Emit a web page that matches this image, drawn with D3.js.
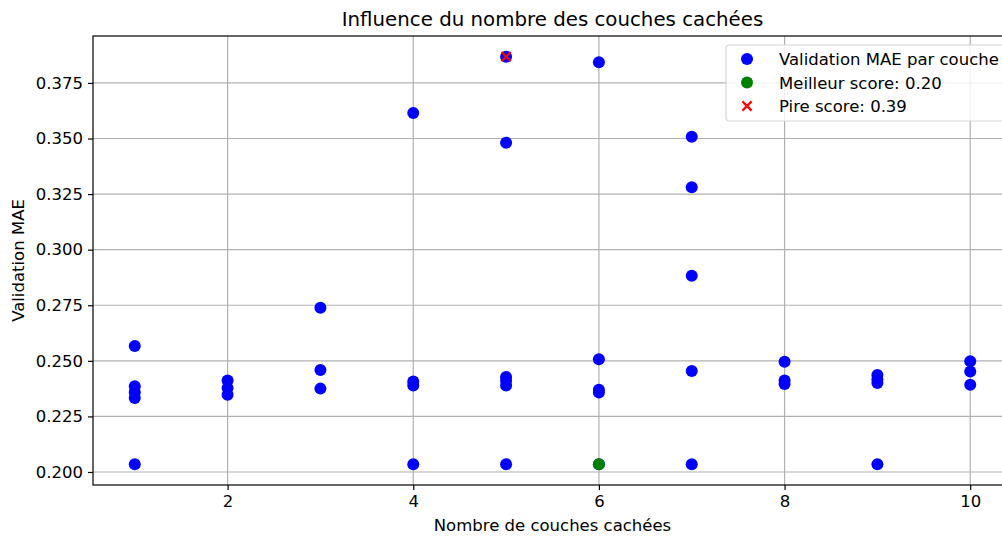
<!DOCTYPE html>
<html>
<head>
<meta charset="utf-8">
<script src="https://cdn.jsdelivr.net/npm/d3@7"></script>
<style>
  html, body { margin: 0; padding: 0; background: #fff; }
  svg { display: block; font-family: "DejaVu Sans", sans-serif; }
</style>
</head>
<body>
<svg id="chart" width="1002" height="536"></svg>
<script>
// Validation MAE for each trial, grouped by number of hidden layers
const layers = [1, 1, 1, 1, 1,
                2, 2, 2,
                3, 3, 3,
                4, 4, 4, 4,
                5, 5, 5, 5, 5, 5,
                6, 6, 6, 6, 6,
                7, 7, 7, 7, 7,
                8, 8, 8,
                9, 9, 9, 9,
                10, 10, 10];
const maeValues = [0.2567, 0.2386, 0.2359, 0.2333, 0.2035,
                   0.2411, 0.2378, 0.2347,
                   0.2739, 0.2459, 0.2375,
                   0.3615, 0.2407, 0.2389, 0.2035,
                   0.3868, 0.3481, 0.2427, 0.2410, 0.2389, 0.2035,
                   0.3843, 0.2507, 0.2370, 0.2358, 0.2035,
                   0.3508, 0.3281, 0.2883, 0.2454, 0.2035,
                   0.2496, 0.2412, 0.2396,
                   0.2436, 0.2416, 0.2400, 0.2035,
                   0.2498, 0.2452, 0.2392];
const bestLayers = 6, bestScore = 0.2035;
const worstLayers = 5, worstScore = 0.3868;
const xTicks = [2, 4, 6, 8, 10];
const yTicks = [0.200, 0.225, 0.250, 0.275, 0.300, 0.325, 0.350, 0.375];

const svg = d3.select("#chart");
const mLeft = 93, mRight = 1012, mTop = 36, mBottom = 485;
const labelSize = "16.5px";

const x = d3.scaleLinear().domain([0.55, 10.45]).range([mLeft, mRight]);
const y = d3.scaleLinear().domain([0.19415, 0.39610]).range([mBottom, mTop]);

const plot = svg.append("g");

// grid
plot.append("g").selectAll("line").data(xTicks).join("line")
  .attr("x1", d => x(d)).attr("x2", d => x(d))
  .attr("y1", mTop).attr("y2", mBottom)
  .attr("stroke", "#b0b0b0").attr("stroke-width", 1.2);
plot.append("g").selectAll("line").data(yTicks).join("line")
  .attr("x1", mLeft).attr("x2", mRight)
  .attr("y1", d => y(d)).attr("y2", d => y(d))
  .attr("stroke", "#b0b0b0").attr("stroke-width", 1.2);

// axes
const xAxis = d3.axisBottom(x).tickValues(xTicks).tickSize(5).tickPadding(5)
  .tickFormat(d3.format("d"));
const yAxis = d3.axisLeft(y).tickValues(yTicks).tickSize(5).tickPadding(5)
  .tickFormat(d3.format(".3f"));

const gx = svg.append("g").attr("transform", `translate(0,${mBottom})`).call(xAxis);
const gy = svg.append("g").attr("transform", `translate(${mLeft},0)`).call(yAxis);
[gx, gy].forEach(g => {
  g.select(".domain").remove();
  g.selectAll(".tick line").attr("stroke", "#000").attr("stroke-width", 1.2);
  g.selectAll(".tick text").attr("fill", "#000").style("font-size", labelSize)
    .style("font-family", "DejaVu Sans");
});

// points
const pts = layers.map((l, i) => ({ l, v: maeValues[i] }));
svg.append("g").selectAll("circle").data(pts).join("circle")
  .attr("cx", d => x(d.l)).attr("cy", d => y(d.v)).attr("r", 6)
  .attr("fill", "blue");

svg.append("circle").attr("cx", x(bestLayers)).attr("cy", y(bestScore))
  .attr("r", 6).attr("fill", "green");

function cross(g, cx, cy, s) {
  g.append("path")
    .attr("d", `M${cx - s},${cy - s}L${cx + s},${cy + s}M${cx - s},${cy + s}L${cx + s},${cy - s}`)
    .attr("stroke", "red").attr("stroke-width", 2.2).attr("fill", "none");
}
cross(svg, x(worstLayers), y(worstScore), 4.6);

// spines
svg.append("rect").attr("x", mLeft).attr("y", mTop)
  .attr("width", mRight - mLeft).attr("height", mBottom - mTop)
  .attr("fill", "none").attr("stroke", "#000").attr("stroke-width", 1.2);

// title & labels
svg.append("text").attr("x", (mLeft + mRight) / 2).attr("y", 26)
  .attr("text-anchor", "middle").style("font-size", "19.8px")
  .text("Influence du nombre des couches cachées");
svg.append("text").attr("x", (mLeft + mRight) / 2).attr("y", 531)
  .attr("text-anchor", "middle").style("font-size", labelSize)
  .text("Nombre de couches cachées");
svg.append("text")
  .attr("transform", `translate(24,${(mTop + mBottom) / 2}) rotate(-90)`)
  .attr("text-anchor", "middle").style("font-size", labelSize)
  .text("Validation MAE");

// legend
const fmt = d3.format(".2f");
const leg = svg.append("g").attr("transform", "translate(726,45)");
leg.append("rect").attr("x", 0).attr("y", 0).attr("width", 290).attr("height", 76)
  .attr("rx", 3).attr("fill", "#fff").attr("fill-opacity", 0.8)
  .attr("stroke", "#d5d5d5").attr("stroke-width", 1.2);
const items = [
  { label: "Validation MAE par couche", kind: "dot", color: "blue" },
  { label: `Meilleur score: ${fmt(bestScore)}`, kind: "dot", color: "green" },
  { label: `Pire score: ${fmt(worstScore)}`, kind: "x", color: "red" }
];
items.forEach((it, i) => {
  const cy = 14 + i * 23.5;
  if (it.kind === "dot") {
    leg.append("circle").attr("cx", 21).attr("cy", cy).attr("r", 6).attr("fill", it.color);
  } else {
    cross(leg, 21, cy, 4.6);
  }
  leg.append("text").attr("x", 53).attr("y", cy + 6).style("font-size", labelSize)
    .text(it.label);
});
</script>
</body>
</html>
